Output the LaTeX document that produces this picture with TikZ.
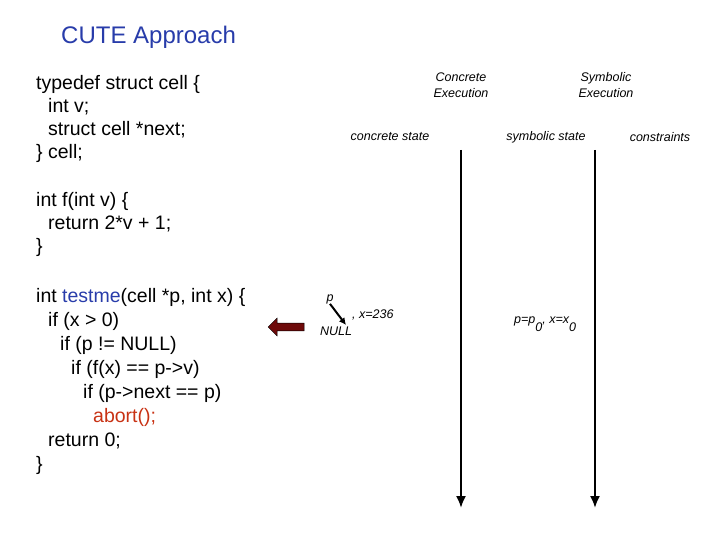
\documentclass[tikz,border=0pt]{standalone}
\usepackage{fontspec}
\setmainfont{Liberation Sans}
\usetikzlibrary{positioning,arrows.meta,shapes.arrows}
\definecolor{fnblue}{RGB}{40,60,170}
\definecolor{abortred}{RGB}{200,50,20}
\definecolor{arrowred}{RGB}{110,10,10}
\newcommand{\ind}[1]{\hspace*{#1pt}}
\begin{document}
\begin{tikzpicture}[x=1pt,y=-1pt]
      \tikzset{code/.style={anchor=north west,align=left,inner sep=0pt,font=\fontsize{19.5}{23}\selectfont}}
      \tikzset{lbl/.style={align=center,inner sep=0pt,font=\fontsize{12.5}{16}\selectfont\itshape}}
      \tikzset{timeline/.style={line width=2pt,-{Latex[length=12pt,width=10pt]}}}
      \useasboundingbox (0,0) rectangle (720,540);
      \node[anchor=west,inner sep=0pt,font=\fontsize{24}{28}\selectfont,text=fnblue] (title) at (61,37) {CUTE Approach};
      \node[code] (cell) at (36,75) {typedef struct cell \{\\\ind{12}int v;\\\ind{12}struct cell *next;\\\} cell;};
      \node[code] (f) at (36,192) {int f(int v) \{\\\ind{12}return 2*v + 1;\\\}};
      \node[code,font=\fontsize{19.5}{24}\selectfont] (testme) at (36,288) {int \textcolor{fnblue}{testme}(cell *p, int x) \{\\
        \ind{12}if (x > 0)\\
        \ind{24}if (p != NULL)\\
        \ind{35}if (f(x) == p->v)\\
        \ind{47}if (p->next == p)\\
        \ind{57}\textcolor{abortred}{abort();}\\
        \ind{12}return 0;\\\}};
      \node[lbl] (conc) at (461,85) {Concrete\\Execution};
      \node[lbl] (symb) at (606,85) {Symbolic\\Execution};
      \node[lbl] (cstate) at (390,137) {concrete state};
      \node[lbl] (sstate) at (546,137) {symbolic state};
      \node[lbl] (cons) at (660,137) {constraints};
      \coordinate (ctop) at (461,150);
      \coordinate (cbot) at (461,508);
      \coordinate (stop) at (595,150);
      \coordinate (sbot) at (595,508);
      \draw[timeline] (ctop) -- (cbot);
      \draw[timeline] (stop) -- (sbot);
      \node[single arrow,fill=arrowred,draw=black,line width=0.4pt,shape border rotate=180,minimum height=36pt,minimum width=18pt,single arrow head extend=3pt,inner sep=2pt] (pc) at (288,327) {};
      \node[lbl] (p) at (330,299) {p};
      \node[lbl] (null) at (336,331) {NULL};
      \coordinate (ptip) at (346,325);
      \draw[line width=2pt,-{Latex[length=7pt,width=7pt]}] (p.south) -- (ptip);
      \node[lbl,anchor=west] (xval) at (352,315) {, x=236};
      \node[lbl,anchor=west] (sval) at (514,324) {p=p\raisebox{-8pt}{0}, x=x\raisebox{-8pt}{0}};
\end{tikzpicture}
\end{document}
